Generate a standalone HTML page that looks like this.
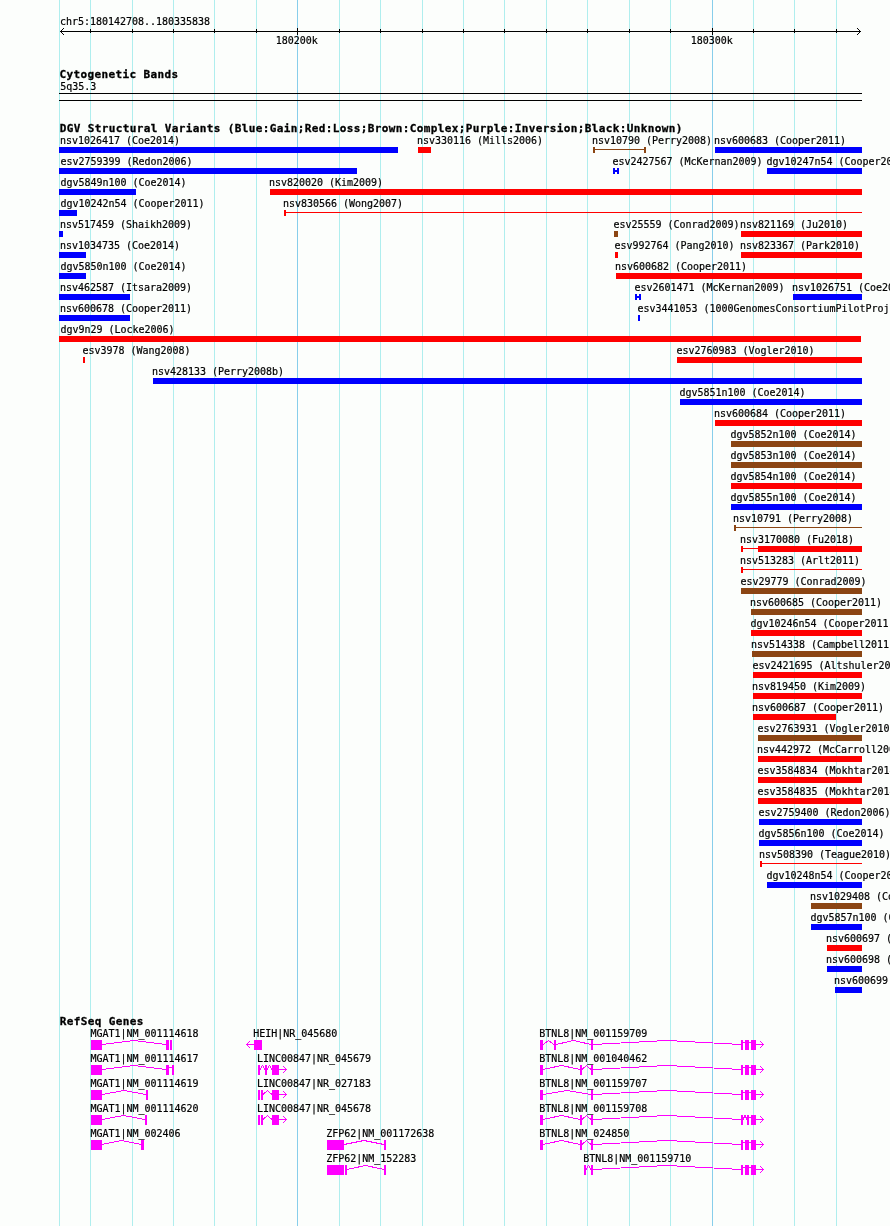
<!DOCTYPE html>
<html lang="en"><head><meta charset="utf-8"><title>chr5:180142708..180335838</title>
<style>
html,body{margin:0;padding:0;background:#fcfefc;}
#panel{position:relative;width:890px;height:1226px;overflow:hidden;background:#fcfefc;
 font-family:"DejaVu Sans Mono","Liberation Mono",monospace;color:#000;}
#panel svg{position:absolute;left:0;top:0;}
.t{position:absolute;white-space:pre;font-size:10px;line-height:12px;height:12px;letter-spacing:-0.02px;-webkit-text-stroke:0.2px #000;}
.h{position:absolute;white-space:pre;font-size:11px;line-height:14px;height:14px;font-weight:bold;letter-spacing:0.378px;-webkit-text-stroke:0.3px #000;}
</style></head>
<body><div id="panel">
<svg width="890" height="1226" viewBox="0 0 890 1226" shape-rendering="crispEdges">
<rect x="59" y="0" width="1" height="1226" fill="#afeeee"/>
<rect x="90" y="0" width="1" height="1226" fill="#afeeee"/>
<rect x="132" y="0" width="1" height="1226" fill="#afeeee"/>
<rect x="173" y="0" width="1" height="1226" fill="#afeeee"/>
<rect x="214" y="0" width="1" height="1226" fill="#afeeee"/>
<rect x="256" y="0" width="1" height="1226" fill="#afeeee"/>
<rect x="297" y="0" width="1" height="1226" fill="#87ceeb"/>
<rect x="339" y="0" width="1" height="1226" fill="#afeeee"/>
<rect x="380" y="0" width="1" height="1226" fill="#afeeee"/>
<rect x="422" y="0" width="1" height="1226" fill="#afeeee"/>
<rect x="463" y="0" width="1" height="1226" fill="#afeeee"/>
<rect x="504" y="0" width="1" height="1226" fill="#afeeee"/>
<rect x="546" y="0" width="1" height="1226" fill="#afeeee"/>
<rect x="587" y="0" width="1" height="1226" fill="#afeeee"/>
<rect x="629" y="0" width="1" height="1226" fill="#afeeee"/>
<rect x="670" y="0" width="1" height="1226" fill="#afeeee"/>
<rect x="712" y="0" width="1" height="1226" fill="#87ceeb"/>
<rect x="753" y="0" width="1" height="1226" fill="#afeeee"/>
<rect x="794" y="0" width="1" height="1226" fill="#afeeee"/>
<rect x="836" y="0" width="1" height="1226" fill="#afeeee"/>
<rect x="60" y="31" width="801" height="1" fill="#000"/>
<rect x="90" y="29" width="1" height="4" fill="#000"/>
<rect x="132" y="29" width="1" height="4" fill="#000"/>
<rect x="173" y="29" width="1" height="4" fill="#000"/>
<rect x="214" y="29" width="1" height="4" fill="#000"/>
<rect x="256" y="29" width="1" height="4" fill="#000"/>
<rect x="297" y="28" width="1" height="7" fill="#000"/>
<rect x="339" y="29" width="1" height="4" fill="#000"/>
<rect x="380" y="29" width="1" height="4" fill="#000"/>
<rect x="422" y="29" width="1" height="4" fill="#000"/>
<rect x="463" y="29" width="1" height="4" fill="#000"/>
<rect x="504" y="29" width="1" height="4" fill="#000"/>
<rect x="546" y="29" width="1" height="4" fill="#000"/>
<rect x="587" y="29" width="1" height="4" fill="#000"/>
<rect x="629" y="29" width="1" height="4" fill="#000"/>
<rect x="670" y="29" width="1" height="4" fill="#000"/>
<rect x="712" y="28" width="1" height="7" fill="#000"/>
<rect x="753" y="29" width="1" height="4" fill="#000"/>
<rect x="794" y="29" width="1" height="4" fill="#000"/>
<rect x="836" y="29" width="1" height="4" fill="#000"/>
<rect x="61" y="30" width="1" height="1" fill="#000"/>
<rect x="61" y="32" width="1" height="1" fill="#000"/>
<rect x="62" y="29" width="1" height="1" fill="#000"/>
<rect x="62" y="33" width="1" height="1" fill="#000"/>
<rect x="63" y="28" width="1" height="1" fill="#000"/>
<rect x="63" y="34" width="1" height="1" fill="#000"/>
<rect x="859" y="30" width="1" height="1" fill="#000"/>
<rect x="859" y="32" width="1" height="1" fill="#000"/>
<rect x="858" y="29" width="1" height="1" fill="#000"/>
<rect x="858" y="33" width="1" height="1" fill="#000"/>
<rect x="857" y="28" width="1" height="1" fill="#000"/>
<rect x="857" y="34" width="1" height="1" fill="#000"/>
<rect x="59" y="93" width="803" height="1" fill="#000"/>
<rect x="59" y="100" width="803" height="1" fill="#000"/>
<rect x="59" y="147" width="339" height="6" fill="#0000ff"/>
<rect x="418" y="147" width="13" height="6" fill="#ff0000"/>
<rect x="593" y="147" width="2" height="6" fill="#8b4513"/>
<rect x="644" y="147" width="2" height="6" fill="#8b4513"/>
<rect x="593" y="149" width="53" height="1" fill="#8b4513"/>
<rect x="715" y="147" width="147" height="6" fill="#0000ff"/>
<rect x="59" y="168" width="298" height="6" fill="#0000ff"/>
<rect x="613" y="168" width="2" height="6" fill="#0000ff"/>
<rect x="617" y="168" width="2" height="6" fill="#0000ff"/>
<rect x="613" y="170" width="6" height="2" fill="#0000ff"/>
<rect x="767" y="168" width="95" height="6" fill="#0000ff"/>
<rect x="59" y="189" width="77" height="6" fill="#0000ff"/>
<rect x="270" y="189" width="592" height="6" fill="#ff0000"/>
<rect x="59" y="210" width="18" height="6" fill="#0000ff"/>
<rect x="284" y="210" width="2" height="6" fill="#ff0000"/>
<rect x="284" y="212" width="578" height="1" fill="#ff0000"/>
<rect x="59" y="231" width="4" height="6" fill="#0000ff"/>
<rect x="614" y="231" width="4" height="6" fill="#8b4513"/>
<rect x="741" y="231" width="121" height="6" fill="#ff0000"/>
<rect x="59" y="252" width="27" height="6" fill="#0000ff"/>
<rect x="615" y="252" width="3" height="6" fill="#ff0000"/>
<rect x="741" y="252" width="121" height="6" fill="#ff0000"/>
<rect x="59" y="273" width="27" height="6" fill="#0000ff"/>
<rect x="616" y="273" width="246" height="6" fill="#ff0000"/>
<rect x="59" y="294" width="71" height="6" fill="#0000ff"/>
<rect x="635" y="294" width="2" height="6" fill="#0000ff"/>
<rect x="639" y="294" width="2" height="6" fill="#0000ff"/>
<rect x="635" y="296" width="6" height="2" fill="#0000ff"/>
<rect x="793" y="294" width="69" height="6" fill="#0000ff"/>
<rect x="59" y="315" width="71" height="6" fill="#0000ff"/>
<rect x="638" y="315" width="2" height="6" fill="#0000ff"/>
<rect x="59" y="336" width="802" height="6" fill="#ff0000"/>
<rect x="83" y="357" width="2" height="6" fill="#ff0000"/>
<rect x="677" y="357" width="185" height="6" fill="#ff0000"/>
<rect x="153" y="378" width="709" height="6" fill="#0000ff"/>
<rect x="680" y="399" width="182" height="6" fill="#0000ff"/>
<rect x="715" y="420" width="147" height="6" fill="#ff0000"/>
<rect x="731" y="441" width="131" height="6" fill="#8b4513"/>
<rect x="731" y="462" width="131" height="6" fill="#8b4513"/>
<rect x="731" y="483" width="131" height="6" fill="#ff0000"/>
<rect x="731" y="504" width="131" height="6" fill="#0000ff"/>
<rect x="734" y="525" width="2" height="6" fill="#8b4513"/>
<rect x="734" y="527" width="128" height="1" fill="#8b4513"/>
<rect x="741" y="546" width="2" height="6" fill="#ff0000"/>
<rect x="741" y="548" width="17" height="1" fill="#ff0000"/>
<rect x="758" y="546" width="104" height="6" fill="#ff0000"/>
<rect x="741" y="567" width="2" height="6" fill="#ff0000"/>
<rect x="741" y="569" width="121" height="1" fill="#ff0000"/>
<rect x="741" y="588" width="121" height="6" fill="#8b4513"/>
<rect x="751" y="609" width="111" height="6" fill="#8b4513"/>
<rect x="751" y="630" width="111" height="6" fill="#ff0000"/>
<rect x="752" y="651" width="110" height="6" fill="#8b4513"/>
<rect x="753" y="672" width="109" height="6" fill="#ff0000"/>
<rect x="753" y="693" width="109" height="6" fill="#ff0000"/>
<rect x="753" y="714" width="83" height="6" fill="#ff0000"/>
<rect x="758" y="735" width="104" height="6" fill="#8b4513"/>
<rect x="758" y="756" width="104" height="6" fill="#ff0000"/>
<rect x="758" y="777" width="104" height="6" fill="#ff0000"/>
<rect x="758" y="798" width="104" height="6" fill="#ff0000"/>
<rect x="759" y="819" width="103" height="6" fill="#0000ff"/>
<rect x="759" y="840" width="103" height="6" fill="#0000ff"/>
<rect x="760" y="861" width="2" height="6" fill="#ff0000"/>
<rect x="760" y="863" width="102" height="1" fill="#ff0000"/>
<rect x="767" y="882" width="95" height="6" fill="#0000ff"/>
<rect x="811" y="903" width="51" height="6" fill="#8b4513"/>
<rect x="811" y="924" width="51" height="6" fill="#0000ff"/>
<rect x="827" y="945" width="35" height="6" fill="#ff0000"/>
<rect x="827" y="966" width="35" height="6" fill="#0000ff"/>
<rect x="835" y="987" width="27" height="6" fill="#0000ff"/>
<rect x="91" y="1040" width="11" height="10" fill="#ff00ff"/>
<rect x="166" y="1040" width="3" height="10" fill="#ff00ff"/>
<rect x="170" y="1040" width="2" height="10" fill="#ff00ff"/>
<polyline points="102,1044.5 134.0,1040.5 166,1044.5" fill="none" stroke="#ff00ff" stroke-width="1"/>
<rect x="254" y="1040" width="8" height="10" fill="#ff00ff"/>
<rect x="246" y="1044" width="8" height="1" fill="#ff00ff"/>
<rect x="247" y="1043" width="1" height="1" fill="#ff00ff"/>
<rect x="247" y="1045" width="1" height="1" fill="#ff00ff"/>
<rect x="248" y="1042" width="1" height="1" fill="#ff00ff"/>
<rect x="248" y="1046" width="1" height="1" fill="#ff00ff"/>
<rect x="249" y="1041" width="1" height="1" fill="#ff00ff"/>
<rect x="249" y="1047" width="1" height="1" fill="#ff00ff"/>
<rect x="540" y="1040" width="3" height="10" fill="#ff00ff"/>
<rect x="554" y="1040" width="2" height="10" fill="#ff00ff"/>
<rect x="591" y="1040" width="2" height="10" fill="#ff00ff"/>
<rect x="741" y="1040" width="2" height="10" fill="#ff00ff"/>
<rect x="745" y="1040" width="4" height="10" fill="#ff00ff"/>
<rect x="751" y="1040" width="5" height="10" fill="#ff00ff"/>
<polyline points="543,1044.5 548.5,1040.5 554,1044.5" fill="none" stroke="#ff00ff" stroke-width="1"/>
<polyline points="556,1044.5 573.5,1040.5 591,1044.5" fill="none" stroke="#ff00ff" stroke-width="1"/>
<polyline points="593,1044.5 667.0,1040.5 741,1044.5" fill="none" stroke="#ff00ff" stroke-width="1"/>
<rect x="743" y="1042" width="2" height="1" fill="#ff00ff"/>
<rect x="749" y="1042" width="2" height="1" fill="#ff00ff"/>
<rect x="756" y="1044" width="8" height="1" fill="#ff00ff"/>
<rect x="762" y="1043" width="1" height="1" fill="#ff00ff"/>
<rect x="762" y="1045" width="1" height="1" fill="#ff00ff"/>
<rect x="761" y="1042" width="1" height="1" fill="#ff00ff"/>
<rect x="761" y="1046" width="1" height="1" fill="#ff00ff"/>
<rect x="760" y="1041" width="1" height="1" fill="#ff00ff"/>
<rect x="760" y="1047" width="1" height="1" fill="#ff00ff"/>
<rect x="91" y="1065" width="11" height="10" fill="#ff00ff"/>
<rect x="166" y="1065" width="3" height="10" fill="#ff00ff"/>
<rect x="172" y="1065" width="2" height="10" fill="#ff00ff"/>
<polyline points="102,1069.5 134.0,1065.5 166,1069.5" fill="none" stroke="#ff00ff" stroke-width="1"/>
<rect x="169" y="1067" width="3" height="1" fill="#ff00ff"/>
<rect x="258" y="1065" width="2" height="10" fill="#ff00ff"/>
<rect x="265" y="1065" width="2" height="10" fill="#ff00ff"/>
<rect x="272" y="1065" width="7" height="10" fill="#ff00ff"/>
<polyline points="260,1069.5 262.5,1065.5 265,1069.5" fill="none" stroke="#ff00ff" stroke-width="1"/>
<polyline points="267,1069.5 269.5,1065.5 272,1069.5" fill="none" stroke="#ff00ff" stroke-width="1"/>
<rect x="279" y="1069" width="8" height="1" fill="#ff00ff"/>
<rect x="285" y="1068" width="1" height="1" fill="#ff00ff"/>
<rect x="285" y="1070" width="1" height="1" fill="#ff00ff"/>
<rect x="284" y="1067" width="1" height="1" fill="#ff00ff"/>
<rect x="284" y="1071" width="1" height="1" fill="#ff00ff"/>
<rect x="283" y="1066" width="1" height="1" fill="#ff00ff"/>
<rect x="283" y="1072" width="1" height="1" fill="#ff00ff"/>
<rect x="540" y="1065" width="3" height="10" fill="#ff00ff"/>
<rect x="580" y="1065" width="2" height="10" fill="#ff00ff"/>
<rect x="591" y="1065" width="2" height="10" fill="#ff00ff"/>
<rect x="741" y="1065" width="2" height="10" fill="#ff00ff"/>
<rect x="745" y="1065" width="4" height="10" fill="#ff00ff"/>
<rect x="751" y="1065" width="5" height="10" fill="#ff00ff"/>
<polyline points="543,1069.5 561.5,1065.5 580,1069.5" fill="none" stroke="#ff00ff" stroke-width="1"/>
<polyline points="582,1069.5 586.5,1065.5 591,1069.5" fill="none" stroke="#ff00ff" stroke-width="1"/>
<polyline points="593,1069.5 667.0,1065.5 741,1069.5" fill="none" stroke="#ff00ff" stroke-width="1"/>
<rect x="743" y="1067" width="2" height="1" fill="#ff00ff"/>
<rect x="749" y="1067" width="2" height="1" fill="#ff00ff"/>
<rect x="756" y="1069" width="8" height="1" fill="#ff00ff"/>
<rect x="762" y="1068" width="1" height="1" fill="#ff00ff"/>
<rect x="762" y="1070" width="1" height="1" fill="#ff00ff"/>
<rect x="761" y="1067" width="1" height="1" fill="#ff00ff"/>
<rect x="761" y="1071" width="1" height="1" fill="#ff00ff"/>
<rect x="760" y="1066" width="1" height="1" fill="#ff00ff"/>
<rect x="760" y="1072" width="1" height="1" fill="#ff00ff"/>
<rect x="91" y="1090" width="11" height="10" fill="#ff00ff"/>
<rect x="146" y="1090" width="2" height="10" fill="#ff00ff"/>
<polyline points="102,1094.5 124.0,1090.5 146,1094.5" fill="none" stroke="#ff00ff" stroke-width="1"/>
<rect x="258" y="1090" width="2" height="10" fill="#ff00ff"/>
<rect x="261" y="1090" width="2" height="10" fill="#ff00ff"/>
<rect x="272" y="1090" width="7" height="10" fill="#ff00ff"/>
<polyline points="263,1094.5 267.5,1090.5 272,1094.5" fill="none" stroke="#ff00ff" stroke-width="1"/>
<rect x="279" y="1094" width="8" height="1" fill="#ff00ff"/>
<rect x="285" y="1093" width="1" height="1" fill="#ff00ff"/>
<rect x="285" y="1095" width="1" height="1" fill="#ff00ff"/>
<rect x="284" y="1092" width="1" height="1" fill="#ff00ff"/>
<rect x="284" y="1096" width="1" height="1" fill="#ff00ff"/>
<rect x="283" y="1091" width="1" height="1" fill="#ff00ff"/>
<rect x="283" y="1097" width="1" height="1" fill="#ff00ff"/>
<rect x="540" y="1090" width="3" height="10" fill="#ff00ff"/>
<rect x="591" y="1090" width="2" height="10" fill="#ff00ff"/>
<rect x="741" y="1090" width="2" height="10" fill="#ff00ff"/>
<rect x="745" y="1090" width="4" height="10" fill="#ff00ff"/>
<rect x="751" y="1090" width="5" height="10" fill="#ff00ff"/>
<polyline points="543,1094.5 567.0,1090.5 591,1094.5" fill="none" stroke="#ff00ff" stroke-width="1"/>
<polyline points="593,1094.5 667.0,1090.5 741,1094.5" fill="none" stroke="#ff00ff" stroke-width="1"/>
<rect x="743" y="1092" width="2" height="1" fill="#ff00ff"/>
<rect x="749" y="1092" width="2" height="1" fill="#ff00ff"/>
<rect x="756" y="1094" width="8" height="1" fill="#ff00ff"/>
<rect x="762" y="1093" width="1" height="1" fill="#ff00ff"/>
<rect x="762" y="1095" width="1" height="1" fill="#ff00ff"/>
<rect x="761" y="1092" width="1" height="1" fill="#ff00ff"/>
<rect x="761" y="1096" width="1" height="1" fill="#ff00ff"/>
<rect x="760" y="1091" width="1" height="1" fill="#ff00ff"/>
<rect x="760" y="1097" width="1" height="1" fill="#ff00ff"/>
<rect x="91" y="1115" width="11" height="10" fill="#ff00ff"/>
<rect x="145" y="1115" width="2" height="10" fill="#ff00ff"/>
<polyline points="102,1119.5 123.5,1115.5 145,1119.5" fill="none" stroke="#ff00ff" stroke-width="1"/>
<rect x="258" y="1115" width="2" height="10" fill="#ff00ff"/>
<rect x="261" y="1115" width="2" height="10" fill="#ff00ff"/>
<rect x="272" y="1115" width="7" height="10" fill="#ff00ff"/>
<polyline points="263,1119.5 267.5,1115.5 272,1119.5" fill="none" stroke="#ff00ff" stroke-width="1"/>
<rect x="279" y="1119" width="8" height="1" fill="#ff00ff"/>
<rect x="285" y="1118" width="1" height="1" fill="#ff00ff"/>
<rect x="285" y="1120" width="1" height="1" fill="#ff00ff"/>
<rect x="284" y="1117" width="1" height="1" fill="#ff00ff"/>
<rect x="284" y="1121" width="1" height="1" fill="#ff00ff"/>
<rect x="283" y="1116" width="1" height="1" fill="#ff00ff"/>
<rect x="283" y="1122" width="1" height="1" fill="#ff00ff"/>
<rect x="540" y="1115" width="3" height="10" fill="#ff00ff"/>
<rect x="580" y="1115" width="2" height="10" fill="#ff00ff"/>
<rect x="591" y="1115" width="2" height="10" fill="#ff00ff"/>
<rect x="741" y="1115" width="2" height="10" fill="#ff00ff"/>
<rect x="747" y="1115" width="2" height="10" fill="#ff00ff"/>
<rect x="751" y="1115" width="5" height="10" fill="#ff00ff"/>
<polyline points="543,1119.5 561.5,1115.5 580,1119.5" fill="none" stroke="#ff00ff" stroke-width="1"/>
<polyline points="582,1119.5 586.5,1115.5 591,1119.5" fill="none" stroke="#ff00ff" stroke-width="1"/>
<polyline points="593,1119.5 667.0,1115.5 741,1119.5" fill="none" stroke="#ff00ff" stroke-width="1"/>
<polyline points="743,1119.5 745.0,1115.5 747,1119.5" fill="none" stroke="#ff00ff" stroke-width="1"/>
<rect x="749" y="1117" width="2" height="1" fill="#ff00ff"/>
<rect x="756" y="1119" width="8" height="1" fill="#ff00ff"/>
<rect x="762" y="1118" width="1" height="1" fill="#ff00ff"/>
<rect x="762" y="1120" width="1" height="1" fill="#ff00ff"/>
<rect x="761" y="1117" width="1" height="1" fill="#ff00ff"/>
<rect x="761" y="1121" width="1" height="1" fill="#ff00ff"/>
<rect x="760" y="1116" width="1" height="1" fill="#ff00ff"/>
<rect x="760" y="1122" width="1" height="1" fill="#ff00ff"/>
<rect x="91" y="1140" width="11" height="10" fill="#ff00ff"/>
<rect x="141" y="1140" width="3" height="10" fill="#ff00ff"/>
<polyline points="102,1144.5 121.5,1140.5 141,1144.5" fill="none" stroke="#ff00ff" stroke-width="1"/>
<rect x="327" y="1140" width="17" height="10" fill="#ff00ff"/>
<rect x="384" y="1140" width="2" height="10" fill="#ff00ff"/>
<polyline points="344,1144.5 364.0,1140.5 384,1144.5" fill="none" stroke="#ff00ff" stroke-width="1"/>
<rect x="540" y="1140" width="3" height="10" fill="#ff00ff"/>
<rect x="580" y="1140" width="2" height="10" fill="#ff00ff"/>
<rect x="591" y="1140" width="2" height="10" fill="#ff00ff"/>
<rect x="741" y="1140" width="2" height="10" fill="#ff00ff"/>
<rect x="745" y="1140" width="4" height="10" fill="#ff00ff"/>
<rect x="751" y="1140" width="5" height="10" fill="#ff00ff"/>
<polyline points="543,1144.5 561.5,1140.5 580,1144.5" fill="none" stroke="#ff00ff" stroke-width="1"/>
<polyline points="582,1144.5 586.5,1140.5 591,1144.5" fill="none" stroke="#ff00ff" stroke-width="1"/>
<polyline points="593,1144.5 667.0,1140.5 741,1144.5" fill="none" stroke="#ff00ff" stroke-width="1"/>
<rect x="743" y="1142" width="2" height="1" fill="#ff00ff"/>
<rect x="749" y="1142" width="2" height="1" fill="#ff00ff"/>
<rect x="756" y="1144" width="8" height="1" fill="#ff00ff"/>
<rect x="762" y="1143" width="1" height="1" fill="#ff00ff"/>
<rect x="762" y="1145" width="1" height="1" fill="#ff00ff"/>
<rect x="761" y="1142" width="1" height="1" fill="#ff00ff"/>
<rect x="761" y="1146" width="1" height="1" fill="#ff00ff"/>
<rect x="760" y="1141" width="1" height="1" fill="#ff00ff"/>
<rect x="760" y="1147" width="1" height="1" fill="#ff00ff"/>
<rect x="327" y="1165" width="17" height="10" fill="#ff00ff"/>
<rect x="345" y="1165" width="2" height="10" fill="#ff00ff"/>
<rect x="384" y="1165" width="2" height="10" fill="#ff00ff"/>
<polyline points="347,1169.5 365.5,1165.5 384,1169.5" fill="none" stroke="#ff00ff" stroke-width="1"/>
<rect x="584" y="1165" width="2" height="10" fill="#ff00ff"/>
<rect x="591" y="1165" width="2" height="10" fill="#ff00ff"/>
<rect x="741" y="1165" width="2" height="10" fill="#ff00ff"/>
<rect x="745" y="1165" width="4" height="10" fill="#ff00ff"/>
<rect x="751" y="1165" width="5" height="10" fill="#ff00ff"/>
<polyline points="586,1169.5 588.5,1165.5 591,1169.5" fill="none" stroke="#ff00ff" stroke-width="1"/>
<polyline points="593,1169.5 667.0,1165.5 741,1169.5" fill="none" stroke="#ff00ff" stroke-width="1"/>
<rect x="743" y="1167" width="2" height="1" fill="#ff00ff"/>
<rect x="749" y="1167" width="2" height="1" fill="#ff00ff"/>
<rect x="756" y="1169" width="8" height="1" fill="#ff00ff"/>
<rect x="762" y="1168" width="1" height="1" fill="#ff00ff"/>
<rect x="762" y="1170" width="1" height="1" fill="#ff00ff"/>
<rect x="761" y="1167" width="1" height="1" fill="#ff00ff"/>
<rect x="761" y="1171" width="1" height="1" fill="#ff00ff"/>
<rect x="760" y="1166" width="1" height="1" fill="#ff00ff"/>
<rect x="760" y="1172" width="1" height="1" fill="#ff00ff"/>
</svg>
<div class="t" style="left:60.05px;top:16px">chr5:180142708..180335838</div>
<div class="t" style="left:275.8px;top:35px">180200k</div>
<div class="t" style="left:690.8px;top:35px">180300k</div>
<div class="h" style="left:59.58px;top:68px">Cytogenetic Bands</div>
<div class="t" style="left:60.3px;top:81px">5q35.3</div>
<div class="h" style="left:59.66px;top:122px">DGV Structural Variants (Blue:Gain;Red:Loss;Brown:Complex;Purple:Inversion;Black:Unknown)</div>
<div class="t" style="left:60.05px;top:135px">nsv1026417 (Coe2014)</div>
<div class="t" style="left:417.05px;top:135px">nsv330116 (Mills2006)</div>
<div class="t" style="left:592.05px;top:135px">nsv10790 (Perry2008)</div>
<div class="t" style="left:714.05px;top:135px">nsv600683 (Cooper2011)</div>
<div class="t" style="left:60.4px;top:156px">esv2759399 (Redon2006)</div>
<div class="t" style="left:612.4px;top:156px">esv2427567 (McKernan2009)</div>
<div class="t" style="left:766.4px;top:156px">dgv10247n54 (Cooper2011)</div>
<div class="t" style="left:60.4px;top:177px">dgv5849n100 (Coe2014)</div>
<div class="t" style="left:269.05px;top:177px">nsv820020 (Kim2009)</div>
<div class="t" style="left:60.4px;top:198px">dgv10242n54 (Cooper2011)</div>
<div class="t" style="left:283.05px;top:198px">nsv830566 (Wong2007)</div>
<div class="t" style="left:60.05px;top:219px">nsv517459 (Shaikh2009)</div>
<div class="t" style="left:613.4px;top:219px">esv25559 (Conrad2009)</div>
<div class="t" style="left:740.05px;top:219px">nsv821169 (Ju2010)</div>
<div class="t" style="left:60.05px;top:240px">nsv1034735 (Coe2014)</div>
<div class="t" style="left:614.4px;top:240px">esv992764 (Pang2010)</div>
<div class="t" style="left:740.05px;top:240px">nsv823367 (Park2010)</div>
<div class="t" style="left:60.4px;top:261px">dgv5850n100 (Coe2014)</div>
<div class="t" style="left:615.05px;top:261px">nsv600682 (Cooper2011)</div>
<div class="t" style="left:60.05px;top:282px">nsv462587 (Itsara2009)</div>
<div class="t" style="left:634.4px;top:282px">esv2601471 (McKernan2009)</div>
<div class="t" style="left:792.05px;top:282px">nsv1026751 (Coe2014)</div>
<div class="t" style="left:60.05px;top:303px">nsv600678 (Cooper2011)</div>
<div class="t" style="left:637.4px;top:303px">esv3441053 (1000GenomesConsortiumPilotProject)</div>
<div class="t" style="left:60.4px;top:324px">dgv9n29 (Locke2006)</div>
<div class="t" style="left:82.4px;top:345px">esv3978 (Wang2008)</div>
<div class="t" style="left:676.4px;top:345px">esv2760983 (Vogler2010)</div>
<div class="t" style="left:152.05px;top:366px">nsv428133 (Perry2008b)</div>
<div class="t" style="left:679.4px;top:387px">dgv5851n100 (Coe2014)</div>
<div class="t" style="left:714.05px;top:408px">nsv600684 (Cooper2011)</div>
<div class="t" style="left:730.4px;top:429px">dgv5852n100 (Coe2014)</div>
<div class="t" style="left:730.4px;top:450px">dgv5853n100 (Coe2014)</div>
<div class="t" style="left:730.4px;top:471px">dgv5854n100 (Coe2014)</div>
<div class="t" style="left:730.4px;top:492px">dgv5855n100 (Coe2014)</div>
<div class="t" style="left:733.05px;top:513px">nsv10791 (Perry2008)</div>
<div class="t" style="left:740.05px;top:534px">nsv3170080 (Fu2018)</div>
<div class="t" style="left:740.05px;top:555px">nsv513283 (Arlt2011)</div>
<div class="t" style="left:740.4px;top:576px">esv29779 (Conrad2009)</div>
<div class="t" style="left:750.05px;top:597px">nsv600685 (Cooper2011)</div>
<div class="t" style="left:750.4px;top:618px">dgv10246n54 (Cooper2011)</div>
<div class="t" style="left:751.05px;top:639px">nsv514338 (Campbell2011)</div>
<div class="t" style="left:752.4px;top:660px">esv2421695 (Altshuler2010)</div>
<div class="t" style="left:752.05px;top:681px">nsv819450 (Kim2009)</div>
<div class="t" style="left:752.05px;top:702px">nsv600687 (Cooper2011)</div>
<div class="t" style="left:757.4px;top:723px">esv2763931 (Vogler2010)</div>
<div class="t" style="left:757.05px;top:744px">nsv442972 (McCarroll2008)</div>
<div class="t" style="left:757.4px;top:765px">esv3584834 (Mokhtar2014)</div>
<div class="t" style="left:757.4px;top:786px">esv3584835 (Mokhtar2014)</div>
<div class="t" style="left:758.4px;top:807px">esv2759400 (Redon2006)</div>
<div class="t" style="left:758.4px;top:828px">dgv5856n100 (Coe2014)</div>
<div class="t" style="left:759.05px;top:849px">nsv508390 (Teague2010)</div>
<div class="t" style="left:766.4px;top:870px">dgv10248n54 (Cooper2011)</div>
<div class="t" style="left:810.05px;top:891px">nsv1029408 (Coe2014)</div>
<div class="t" style="left:810.4px;top:912px">dgv5857n100 (Coe2014)</div>
<div class="t" style="left:826.05px;top:933px">nsv600697 (Cooper2011)</div>
<div class="t" style="left:826.05px;top:954px">nsv600698 (Cooper2011)</div>
<div class="t" style="left:834.05px;top:975px">nsv600699 (Cooper2011)</div>
<div class="h" style="left:59.69px;top:1015px">RefSeq Genes</div>
<div class="t" style="left:90.58px;top:1028px">MGAT1|NM_001114618</div>
<div class="t" style="left:253.33px;top:1028px">HEIH|NR_045680</div>
<div class="t" style="left:539.19px;top:1028px">BTNL8|NM_001159709</div>
<div class="t" style="left:90.58px;top:1053px">MGAT1|NM_001114617</div>
<div class="t" style="left:256.95px;top:1053px">LINC00847|NR_045679</div>
<div class="t" style="left:539.19px;top:1053px">BTNL8|NM_001040462</div>
<div class="t" style="left:90.58px;top:1078px">MGAT1|NM_001114619</div>
<div class="t" style="left:256.95px;top:1078px">LINC00847|NR_027183</div>
<div class="t" style="left:539.19px;top:1078px">BTNL8|NM_001159707</div>
<div class="t" style="left:90.58px;top:1103px">MGAT1|NM_001114620</div>
<div class="t" style="left:256.95px;top:1103px">LINC00847|NR_045678</div>
<div class="t" style="left:539.19px;top:1103px">BTNL8|NM_001159708</div>
<div class="t" style="left:90.58px;top:1128px">MGAT1|NM_002406</div>
<div class="t" style="left:326.24px;top:1128px">ZFP62|NM_001172638</div>
<div class="t" style="left:539.19px;top:1128px">BTNL8|NM_024850</div>
<div class="t" style="left:326.24px;top:1153px">ZFP62|NM_152283</div>
<div class="t" style="left:583.19px;top:1153px">BTNL8|NM_001159710</div>
</div></body></html>
